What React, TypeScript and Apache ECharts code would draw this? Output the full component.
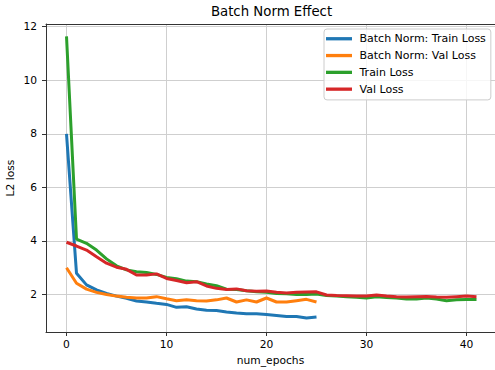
import React, { useEffect, useRef } from "react";
import * as echarts from "echarts";

const seriesNames = ["Batch Norm: Train Loss", "Batch Norm: Val Loss", "Train Loss", "Val Loss"];
const colors = ["#1f77b4", "#ff7f0e", "#2ca02c", "#d62728"];

const bnTrainLoss = [
  8.0, 2.79, 2.36, 2.17, 2.04, 1.94, 1.86, 1.76, 1.72, 1.67, 1.63, 1.52, 1.54, 1.46,
  1.41, 1.4, 1.35, 1.31, 1.28, 1.28, 1.25, 1.22, 1.18, 1.18, 1.12, 1.16,
];
const bnValLoss = [
  3.0, 2.42, 2.2, 2.08, 2.0, 1.94, 1.9, 1.87, 1.87, 1.92, 1.84, 1.77, 1.8, 1.77, 1.76,
  1.8, 1.87, 1.72, 1.8, 1.72, 1.87, 1.72, 1.72, 1.77, 1.82, 1.72,
];
const trainLoss = [
  11.64, 4.07, 3.91, 3.66, 3.33, 3.07, 2.92, 2.85, 2.82, 2.75, 2.64, 2.59, 2.5, 2.48,
  2.39, 2.33, 2.2, 2.19, 2.14, 2.1, 2.08, 2.04, 2.03, 2.0, 2.0, 2.02, 1.96, 1.94, 1.92,
  1.9, 1.87, 1.92, 1.89, 1.87, 1.83, 1.83, 1.87, 1.83, 1.77, 1.8, 1.81, 1.81,
];
const valLoss = [
  3.95, 3.81, 3.66, 3.41, 3.17, 3.02, 2.94, 2.73, 2.73, 2.77, 2.6, 2.52, 2.44, 2.48,
  2.32, 2.23, 2.19, 2.21, 2.14, 2.12, 2.13, 2.08, 2.06, 2.08, 2.09, 2.1, 1.98, 1.96,
  1.95, 1.94, 1.94, 1.98, 1.94, 1.92, 1.91, 1.92, 1.93, 1.91, 1.9, 1.92, 1.94, 1.92,
];
const xTicks = [0, 10, 20, 30, 40];
const yTicks = [2, 4, 6, 8, 10, 12];

const FONT = "DejaVu Sans";
const X_MIN = -2.05;
const X_MAX = 42.85;
const Y_MIN = 0.6;
const Y_MAX = 12.1;

export default function App() {
  const ref = useRef<HTMLDivElement>(null);
  useEffect(() => {
    if (!ref.current) return;
    const chart = echarts.init(ref.current, undefined, { renderer: "svg" });
    const all = [bnTrainLoss, bnValLoss, trainLoss, valLoss];
    const gridLine = { color: "#cfcfcf", width: 1 };
    chart.setOption({
      animation: false,
      backgroundColor: "#ffffff",
      title: {
        text: "Batch Norm Effect",
        left: 271.5,
        textAlign: "center",
        top: 4.5,
        padding: 0,
        textStyle: { fontFamily: FONT, fontSize: 13.3, fontWeight: "normal", color: "#000" },
      },
      grid: {
        left: 46,
        top: 24,
        right: 0,
        bottom: 38,
        show: false,
        containLabel: false,
        outerBoundsMode: "none",
      },
      legend: {
        orient: "vertical",
        left: 324,
        top: 29,
        padding: [3.5, 5, 4.5, 2],
        itemGap: 4.3,
        itemWidth: 26,
        itemHeight: 3.3,
        icon: "rect",
        backgroundColor: "rgba(255,255,255,0.8)",
        borderColor: "#cccccc",
        borderWidth: 1,
        borderRadius: 3,
        textStyle: {
          fontFamily: FONT,
          fontSize: 11,
          color: "#000",
          lineHeight: 12.5,
          padding: [0, 0, 0, 2.5],
        },
        data: seriesNames,
      },
      xAxis: [
        {
          type: "value",
          min: X_MIN,
          max: X_MAX,
          splitNumber: 5,
          name: "num_epochs",
          nameLocation: "middle",
          nameGap: 23,
          nameMoveOverlap: false,
          nameTextStyle: { fontFamily: FONT, fontSize: 10.7, color: "#000" },
          axisLine: { show: true, onZero: false, lineStyle: { color: "#333", width: 1 } },
          axisTick: { show: true, length: 4, customValues: xTicks, lineStyle: { color: "#333" } },
          axisLabel: {
            customValues: xTicks,
            margin: 7,
            fontFamily: FONT,
            fontSize: 10.7,
            color: "#000",
          },
          splitLine: { show: true, lineStyle: gridLine },
        },
        {
          type: "value",
          position: "top",
          min: X_MIN,
          max: X_MAX,
          axisLine: { show: true, onZero: false, lineStyle: { color: "#333", width: 1 } },
          axisTick: { show: false },
          axisLabel: { show: false },
          splitLine: { show: false },
        },
      ],
      yAxis: {
        type: "value",
        min: Y_MIN,
        max: Y_MAX,
        splitNumber: 5,
        name: "L2 loss",
        nameLocation: "middle",
        nameGap: 30,
        nameMoveOverlap: false,
        nameRotate: 90,
        nameTextStyle: { fontFamily: FONT, fontSize: 10.7, color: "#000" },
        axisLine: { show: true, onZero: false, lineStyle: { color: "#333", width: 1 } },
        axisTick: { show: true, length: 4, customValues: yTicks, lineStyle: { color: "#333" } },
        axisLabel: {
          customValues: yTicks,
          margin: 9,
          fontFamily: FONT,
          fontSize: 10.7,
          color: "#000",
        },
        splitLine: { show: true, lineStyle: gridLine },
      },
      series: all.map((arr, si) => ({
        name: seriesNames[si],
        type: "line",
        xAxisIndex: 0,
        data: arr.map((v, i) => [i, v]),
        showSymbol: false,
        symbol: "none",
        color: colors[si],
        lineStyle: { color: colors[si], width: 3 },
        z: 2 + si,
      })),
    });
    return () => chart.dispose();
  }, []);
  return (
    <div
      ref={ref}
      style={{ position: "absolute", left: 0, top: 0, width: 495, height: 370 }}
    />
  );
}
